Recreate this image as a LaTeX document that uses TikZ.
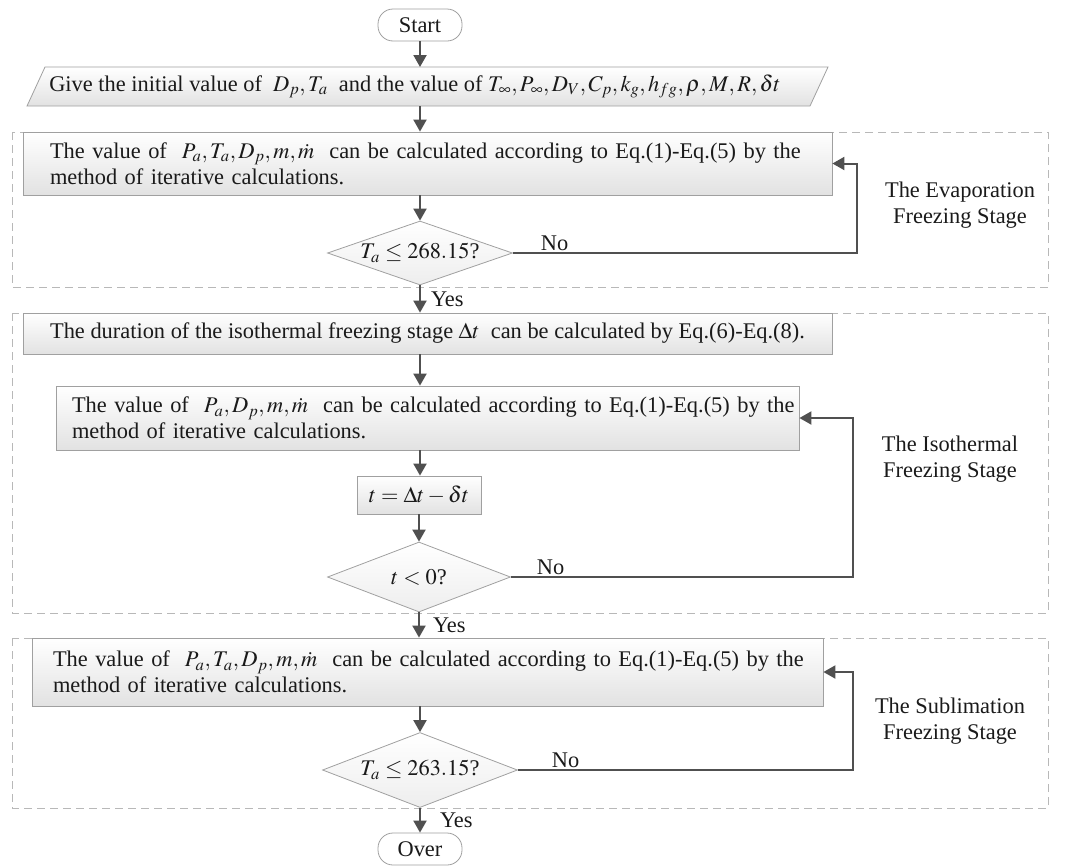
\documentclass[tikz,border=0pt]{standalone}
\usepackage{mathptmx}
\usepackage{fontspec}
\setmainfont{Liberation Serif}
\usetikzlibrary{arrows.meta,shapes.geometric,backgrounds,calc}
\definecolor{arrgray}{HTML}{505050}
\definecolor{boxgray}{HTML}{A0A0A0}
\definecolor{dashgray}{HTML}{B8B8B8}
\definecolor{shadegray}{HTML}{E2E2E2}
\definecolor{txt}{HTML}{1A1A1A}
\begin{document}
\begin{tikzpicture}[x=1pt,y=-1pt,
  every node/.style={font=\fontsize{22.4}{26}\selectfont, text=txt},
  procbox/.style={draw=boxgray, line width=0.8pt, top color=white, bottom color=shadegray, inner sep=0pt},
  termbox/.style={draw=boxgray, line width=0.8pt, rounded corners=15pt, fill=white, minimum width=84pt, minimum height=32pt, inner sep=0pt},
  decbox/.style={diamond, draw=boxgray, line width=0.8pt, top color=white, bottom color=shadegray!60, inner sep=0pt},
  dectext/.style={inner sep=0pt},
  arr/.style={draw=arrgray, line width=2pt, -{Triangle[length=12pt,width=13pt]}},
  stagebox/.style={draw=dashgray, line width=1pt, dash pattern=on 8pt off 5pt},
  stagelabel/.style={align=center},
  edgelabel/.style={inner sep=1pt}
]
\useasboundingbox (0,0) rectangle (1070,865);

% stage frames
\begin{scope}[on background layer]
\draw[stagebox] (12,132) rectangle (1048,287);
\draw[stagebox] (12,313) rectangle (1048,613);
\draw[stagebox] (12,638) rectangle (1048,808);
\shade[top color=white, bottom color=shadegray] (45,67) -- (828,67) -- (810,106) -- (27,106) -- cycle;
\draw[draw=boxgray, line width=0.8pt] (45,67) -- (828,67) -- (810,106) -- (27,106) -- cycle;
\end{scope}

% nodes
\node[termbox] (start) at (420,25) {Start};

\node[inner sep=0pt, minimum height=39pt] (inp) at (415,86.5)
  {Give the initial value of\ \ $D_p,T_a$\ \ and the value of $T_\infty,P_\infty,D_V,C_p,k_g,h_{fg},\rho,M,R,\delta t$};

\node[procbox, minimum width=809pt, minimum height=63pt, text width=755pt, align=left] (box1) at (427.5,163.5)
  {\mbox{The value of\ \ $P_a,T_a,D_p,m,\dot m$\ \ can be calculated according to Eq.(1)-Eq.(5) by the}\\method of iterative calculations.};

\node[decbox, minimum width=185pt, minimum height=64pt] (d1) at (420,253) {};
\node[dectext] (d1t) at (d1.center) {$T_a\le 268.15$?};

\node[procbox, minimum width=809pt, minimum height=41pt, align=center] (box3) at (427.5,333.5)
  {The duration of the isothermal freezing stage\ $\Delta t$\ \ can be calculated by Eq.(6)-Eq.(8).};

\node[procbox, minimum width=743pt, minimum height=64pt, text width=711pt, align=left] (box4) at (427.5,418)
  {\mbox{The value of\ \ $P_a,D_p,m,\dot m$\ \ can be calculated according to Eq.(1)-Eq.(5) by the}\\method of iterative calculations.};

\node[procbox, minimum width=124pt, minimum height=38pt] (box5) at (419,495) {$t=\Delta t-\delta t$};

\node[decbox, minimum width=183pt, minimum height=70pt] (d2) at (419,577) {};
\node[dectext] (d2t) at (d2.center) {$t<0$?};

\node[procbox, minimum width=791pt, minimum height=68pt, text width=749pt, align=left] (box6) at (427.5,672)
  {\mbox{The value of\ \ $P_a,T_a,D_p,m,\dot m$\ \ can be calculated according to Eq.(1)-Eq.(5) by the}\\method of iterative calculations.};

\node[decbox, minimum width=195pt, minimum height=75pt] (d3) at (420,770) {};
\node[dectext] (d3t) at (d3.center) {$T_a\le 263.15$?};

\node[termbox] (over) at (420,849) {Over};

% stage labels
\node[stagelabel] (lab1) at (960,205) {The Evaporation\\Freezing Stage};
\node[stagelabel] (lab2) at (950,459) {The Isothermal\\Freezing Stage};
\node[stagelabel] (lab3) at (950,721) {The Sublimation\\Freezing Stage};

% loop corners
\coordinate (c1) at (857,253);
\coordinate (c2) at (853,577);
\coordinate (c3) at (853,770);

% connectors
\draw[arr] (start.south) -- (start.south |- 0,67);
\draw[arr] (start.south |- 0,106) -- (box1.north -| start.south);
\draw[arr] (box1.south -| d1.north) -- (d1.north);
\draw[arr] (d1.east) -- node[pos=0, anchor=south west, xshift=26pt, edgelabel] (no1) {No} (c1) |- (box1.east);
\draw[arr] (d1.south) -- node[anchor=west, xshift=9pt, edgelabel] (yes1) {Yes} (box3.north -| d1.south);
\draw[arr] (box3.south -| d1.south) -- (box4.north -| d1.south);
\draw[arr] (box4.south -| d1.south) -- (box5.north -| d1.south);
\draw[arr] (box5.south) -- (d2.north);
\draw[arr] (d2.east) -- node[pos=0, anchor=south west, xshift=24pt, edgelabel] (no2) {No} (c2) |- (box4.east);
\draw[arr] (d2.south) -- node[anchor=west, xshift=12pt, edgelabel] (yes2) {Yes} (box6.north -| d2.south);
\draw[arr] (box6.south -| d3.north) -- (d3.north);
\draw[arr] (d3.east) -- node[pos=0, anchor=south west, xshift=32pt, edgelabel] (no3) {No} (c3) |- (box6.east);
\draw[arr] (d3.south) -- node[anchor=west, xshift=18pt, edgelabel] (yes3) {Yes} (over.north);
\end{tikzpicture}
\end{document}
